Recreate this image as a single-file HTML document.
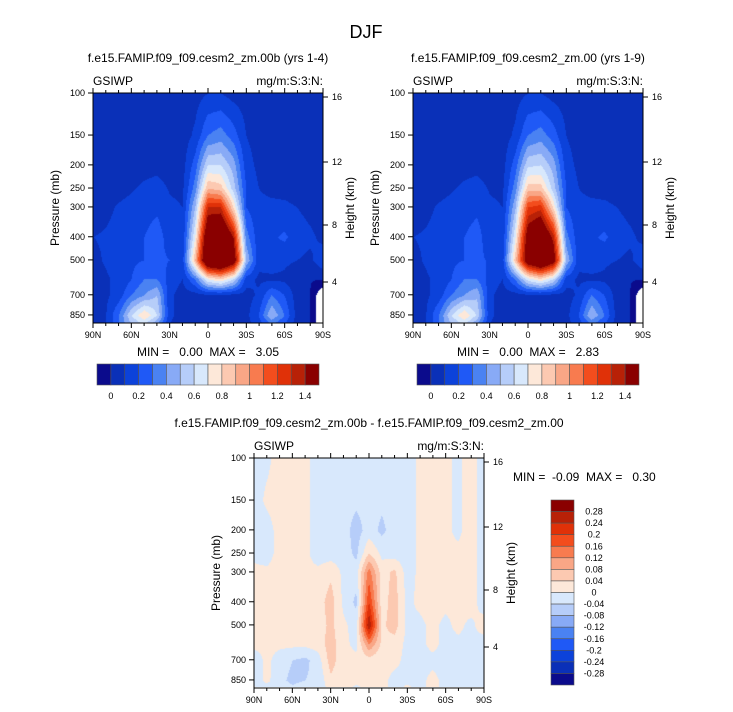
<!DOCTYPE html>
<html><head><meta charset="utf-8">
<style>
body{margin:0;background:#fff;}
#wrap{position:relative;width:733px;height:712px;overflow:hidden;font-family:"Liberation Sans",sans-serif;}
canvas{position:absolute;}
svg{position:absolute;left:0;top:0;}
text{white-space:pre;}
</style></head>
<body>
<div id="wrap">
<canvas id="c1" width="230" height="230" style="left:93px;top:93px"></canvas>
<canvas id="c2" width="230" height="230" style="left:413px;top:93px"></canvas>
<canvas id="c3" width="230" height="229" style="left:254px;top:458px"></canvas>
<svg id="ov" width="733" height="712"></svg>
</div>
<script>
const latitudes=["90N","80N","70N","60N","50N","40N","30N","20N","10N","0","10S","20S","30S","40S","50S","60S","70S","80S","90S"];
const pressureLevels=[100,150,200,250,300,400,500,600,700,850,925];
const iwpModelB=[
[.05,.05,.05,.05,.05,.05,.05,.05,.06,.1,.1,.06,.05,.05,.05,.05,.05,.05,.05],
[.05,.05,.05,.05,.05,.05,.05,.05,.12,.3,.35,.25,.1,.05,.05,.05,.05,.05,.05],
[.05,.05,.05,.05,.06,.07,.05,.06,.25,.6,.6,.45,.15,.07,.05,.05,.05,.05,.05],
[.05,.05,.07,.09,.12,.14,.09,.08,.35,.9,.85,.55,.2,.1,.08,.07,.06,.05,.05],
[.06,.08,.11,.13,.16,.18,.12,.1,.5,1.3,1.3,.8,.2,.12,.12,.12,.1,.07,.05],
[.1,.11,.13,.16,.2,.25,.15,.12,.7,1.7,1.8,1.4,.35,.13,.18,.22,.15,.12,.08],
[.08,.11,.14,.18,.2,.22,.2,.15,.9,1.8,1.9,1.6,.5,.13,.15,.12,.1,.08,.15],
[.06,.09,.12,.2,.3,.3,.15,.1,.3,.7,.8,.6,.15,.08,.08,.08,.03,.03,.04],
[.04,.08,.15,.3,.4,.5,.12,.06,.06,.08,.08,.07,.06,.12,.3,.2,.05,.03,-1],
[.04,.1,.3,.6,.8,.6,.12,.06,.06,.06,.06,.06,.07,.2,.5,.3,.06,.04,-1],
[.05,.1,.3,.5,.6,.4,.1,.05,.05,.05,.05,.05,.06,.15,.3,.2,.05,.03,-1]];
const iwpModelA=[
[.05,.05,.05,.05,.05,.05,.05,.05,.06,.1,.1,.06,.05,.05,.05,.05,.05,.05,.05],
[.05,.05,.05,.05,.05,.05,.05,.05,.12,.3,.35,.25,.1,.05,.05,.05,.05,.05,.05],
[.05,.05,.05,.05,.06,.07,.05,.06,.25,.58,.6,.45,.15,.07,.05,.05,.05,.05,.05],
[.05,.05,.07,.09,.12,.14,.09,.08,.35,.85,.85,.55,.2,.1,.08,.07,.06,.05,.05],
[.06,.08,.11,.13,.16,.18,.12,.1,.48,1.2,1.25,.78,.2,.12,.12,.12,.1,.07,.05],
[.1,.11,.13,.16,.2,.24,.14,.12,.68,1.55,1.75,1.35,.34,.13,.18,.22,.15,.12,.08],
[.08,.11,.14,.18,.2,.22,.19,.15,.85,1.6,1.8,1.55,.5,.13,.15,.12,.1,.08,.15],
[.06,.09,.12,.2,.3,.3,.15,.1,.3,.65,.78,.6,.15,.08,.08,.08,.03,.03,.04],
[.04,.08,.15,.3,.4,.48,.12,.06,.06,.08,.08,.07,.06,.12,.3,.2,.05,.03,-1],
[.04,.1,.3,.6,.8,.58,.12,.06,.06,.06,.06,.06,.07,.2,.5,.3,.06,.04,-1],
[.05,.1,.3,.5,.6,.4,.1,.05,.05,.05,.05,.05,.06,.15,.3,.2,.05,.03,-1]];
const iwpDiff=[
[-.02,-.01,.02,.02,.01,-.02,-.02,-.02,-.02,-.02,-.02,-.02,-.02,.01,.02,.01,-.01,.02,-.02],
[-.02,.01,.02,.02,.01,-.02,-.02,-.02,-.03,-.02,-.03,-.02,-.02,.01,.02,.01,-.01,.02,-.02],
[-.02,-.02,.02,.02,.01,-.02,-.02,-.02,-.06,-.02,-.05,-.02,-.02,.01,.02,.01,-.01,.02,-.02],
[-.01,-.02,.02,.02,.01,-.02,-.02,-.02,-.05,.04,-.01,-.02,-.02,.01,.02,.01,.01,.02,-.02],
[.01,.01,.02,.02,.01,.01,.03,-.01,-.02,.14,.02,.05,-.02,.01,.02,.01,.01,.02,-.02],
[.01,.01,.02,.02,.01,.02,.06,-.01,-.05,.2,.02,.06,-.01,.01,.02,.01,.01,.02,-.02],
[.01,.01,.02,.02,.01,.02,.05,.01,-.02,.28,.03,.06,-.01,-.01,.01,-.01,.01,-.01,.02],
[.01,.01,.01,.01,.01,.02,.06,.01,-.01,.12,.03,.02,-.01,-.01,.01,-.01,-.01,-.01,-.02],
[-.02,.01,-.02,-.04,-.05,-.02,.06,.01,.01,.02,.01,.01,-.01,-.01,-.01,-.01,-.01,-.02,-.02],
[-.02,.01,-.03,-.05,-.04,-.03,.03,.01,.01,.01,.01,-.01,-.01,-.01,.01,-.01,-.02,-.02,-.02],
[.01,-.02,-.02,-.03,-.02,-.02,.01,.01,-.01,.01,.01,-.01,.01,-.01,.01,-.01,-.02,-.02,-.02]];
const levelsMain=["0","0.2","0.4","0.6","0.8","1","1.2","1.4"];
const levelsDiff=["0.28","0.24","0.2","0.16","0.12","0.08","0.04","0","-0.04","-0.08","-0.12","-0.16","-0.2","-0.24","-0.28"];
const xTicks=["90N","60N","30N","0","30S","60S","90S"];
const pTicks=[100,150,200,250,300,400,500,700,850];
const hTicks=[16,12,8,4];

const colors=["#0b0b8c","#0a30b8","#0c42da","#1f59f6","#4a82f2","#88aaf6","#b6cdf9","#d8e8fc","#fde8d9","#fcc9b1","#f9a686","#f87b4f","#f34d1d","#e03108","#b82107","#8a0000"];
const SC=103.7;
function py(p){return SC*Math.log(p/100);}
function drawField(id,grid,idxFn){
  const cv=document.getElementById(id),ctx=cv.getContext('2d');
  const w=cv.width,h=cv.height,img=ctx.createImageData(w,h);
  const rowsY=pressureLevels.map(py);
  const rgb=colors.map(c=>[parseInt(c.substr(1,2),16),parseInt(c.substr(3,2),16),parseInt(c.substr(5,2),16)]);
  for(let y=0;y<h;y++){
    let r=0;while(r<rowsY.length-2&&rowsY[r+1]<y)r++;
    let fy=Math.min(1,Math.max(0,(y-rowsY[r])/(rowsY[r+1]-rowsY[r])));
    for(let x=0;x<w;x++){
      let gx=x/(w-1)*(latitudes.length-1),c=Math.min(latitudes.length-2,Math.floor(gx)),fx=gx-c;
      let a=grid[r][c],b=grid[r][c+1],d=grid[r+1][c],e=grid[r+1][c+1];
      let v=(a*(1-fx)+b*fx)*(1-fy)+(d*(1-fx)+e*fx)*fy;
      let k=(x+y*w)*4,col;
      if(v<-0.5){col=[255,255,255];}else col=rgb[Math.max(0,Math.min(15,idxFn(v)))];
      img.data[k]=col[0];img.data[k+1]=col[1];img.data[k+2]=col[2];img.data[k+3]=255;
    }
  }
  ctx.putImageData(img,0,0);
}
drawField('c1',iwpModelB,v=>Math.floor(v/0.1)+1);
drawField('c2',iwpModelA,v=>Math.floor(v/0.1)+1);
drawField('c3',iwpDiff,v=>Math.floor(v/0.04)+8);

const S=document.getElementById('ov');const NS="http://www.w3.org/2000/svg";
function el(tag,attrs,txt){const e=document.createElementNS(NS,tag);for(const k in attrs)e.setAttribute(k,attrs[k]);if(txt!==undefined)e.textContent=txt;S.appendChild(e);return e;}
function text(x,y,s,size,anchor,name,extra){const t=el('text',Object.assign({x:x,y:y,'font-size':size,'text-anchor':anchor||'middle',fill:'#000'},extra||{}),s);return t;}
function panel(L,T,pre,title){
  const R=L+230,B=T+230;
  text(L+115,T-31,title,12,'middle',pre+'-title');
  text(L,T-8,'GSIWP',12,'start',pre+'-variable-label');
  text(R,T-8,'mg/m:S:3:N:',12,'end',pre+'-units-label');
  const f=el('rect',{x:L,y:T,width:230,height:230,fill:'none',stroke:'#000','stroke-width':1});
  
  for(let i=0;i<=18;i++){const x=L+i*230/18,len=(i%3==0)?5:3;
    el('line',{x1:x,y1:B,x2:x,y2:B+len,stroke:'#000'});el('line',{x1:x,y1:T,x2:x,y2:T-len,stroke:'#000'});}
  xTicks.forEach((s,i)=>text(L+i*230/6,B+15,s,9,'middle',pre+'-x-tick-label'));
  pTicks.forEach(p=>{const y=T+py(p);el('line',{x1:L-5,y1:y,x2:L,y2:y,stroke:'#000'});text(L-8,y+3,String(p),9,'end',pre+'-y-tick-label');});
  const hY=[4,69,132,189];
  hTicks.forEach((hk,i)=>{const y=T+hY[i];el('line',{x1:R,y1:y,x2:R+5,y2:y,stroke:'#000'});text(R+9,y+3,String(hk),9,'start',pre+'-height-tick-label');});
  text(0,0,'Pressure (mb)',12,'middle',pre+'-y-axis-title',{transform:`translate(${L-34},${T+115}) rotate(-90)`});
  text(0,0,'Height (km)',12,'middle',pre+'-height-axis-title',{transform:`translate(${R+31},${T+115}) rotate(-90)`});
}
text(366,38,'DJF',18,'middle','figure-title');
panel(93,93,'panel-b','f.e15.FAMIP.f09_f09.cesm2_zm.00b (yrs 1-4)');
panel(413,93,'panel-a','f.e15.FAMIP.f09_f09.cesm2_zm.00 (yrs 1-9)');
panel(254,458,'panel-diff','f.e15.FAMIP.f09_f09.cesm2_zm.00b - f.e15.FAMIP.f09_f09.cesm2_zm.00');
text(208,356,'MIN =   0.00  MAX =   3.05',12,'middle','panel-b-minmax');
text(528,356,'MIN =   0.00  MAX =   2.83',12,'middle','panel-a-minmax');
text(513,481,'MIN =  -0.09  MAX =   0.30',12,'start','panel-diff-minmax');
function hbar(L,pre){
  const w=222/16;
  colors.forEach((c,i)=>{const r=el('rect',{x:L+i*w,y:364,width:w,height:21,fill:c,stroke:'#555','stroke-width':0.6});});
  levelsMain.forEach((s,i)=>text(L+(1+2*i)*w,399,s,9,'middle',pre+'-colorbar-label'));
}
hbar(97,'panel-b');hbar(417,'panel-a');
const bh=185/16;
colors.slice().reverse().forEach((c,i)=>{const r=el('rect',{x:551,y:500+i*bh,width:23,height:bh,fill:c,stroke:'#555','stroke-width':0.6});});
levelsDiff.forEach((s,i)=>text(594,500+(i+1)*bh+3,s,9,'middle','panel-diff-colorbar-label'));
</script>
</body></html>
